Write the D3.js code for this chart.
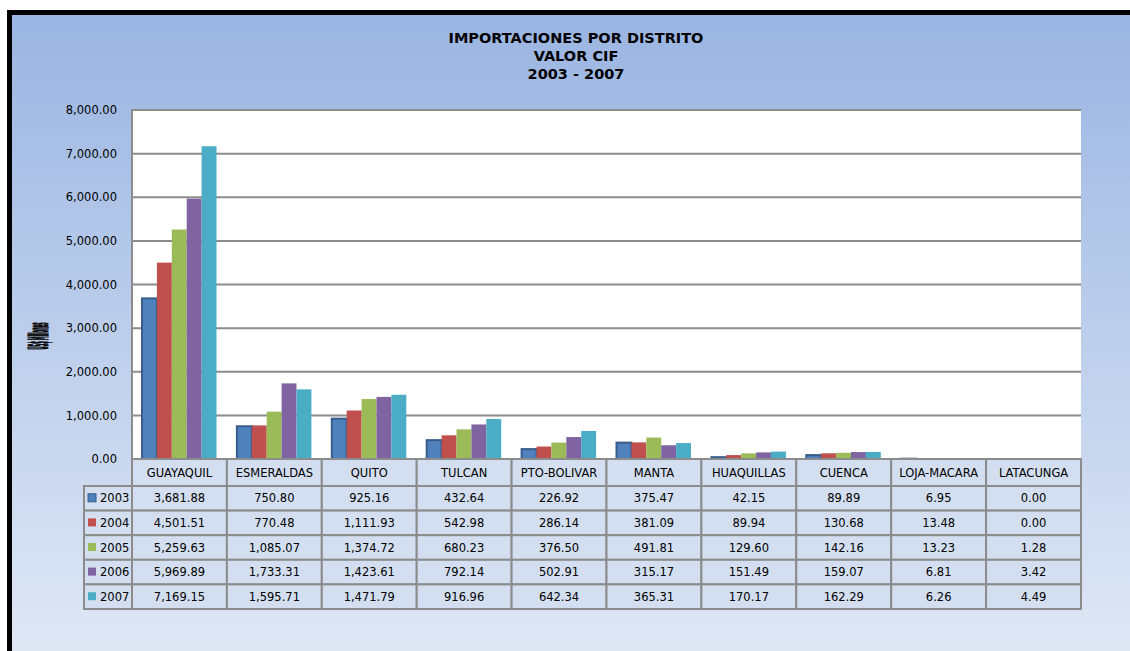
<!DOCTYPE html>
<html>
<head>
<meta charset="utf-8">
<script src="https://cdn.jsdelivr.net/npm/d3@7"></script>
<style>
  body { margin: 0; background: #fff; }
  svg { display: block; font-family: "DejaVu Sans", Verdana, sans-serif; }
</style>
</head>
<body>
<div class="graph"></div>
<script>
// Importaciones por distrito, valor CIF 2003 - 2007

var districts = ["GUAYAQUIL", "ESMERALDAS", "QUITO", "TULCAN", "PTO-BOLIVAR",
                 "MANTA", "HUAQUILLAS", "CUENCA", "LOJA-MACARA", "LATACUNGA"];
var years = ["2003", "2004", "2005", "2006", "2007"];

var v2003 = [3681.88, 750.80, 925.16, 432.64, 226.92, 375.47, 42.15, 89.89, 6.95, 0.00];
var v2004 = [4501.51, 770.48, 1111.93, 542.98, 286.14, 381.09, 89.94, 130.68, 13.48, 0.00];
var v2005 = [5259.63, 1085.07, 1374.72, 680.23, 376.50, 491.81, 129.60, 142.16, 13.23, 1.28];
var v2006 = [5969.89, 1733.31, 1423.61, 792.14, 502.91, 315.17, 151.49, 159.07, 6.81, 3.42];
var v2007 = [7169.15, 1595.71, 1471.79, 916.96, 642.34, 365.31, 170.17, 162.29, 6.26, 4.49];

var yTicks = [0, 1000, 2000, 3000, 4000, 5000, 6000, 7000, 8000];
var colors = ["#4f81bd", "#c0504d", "#9bbb59", "#8064a2", "#4bacc6"];

var series = [v2003, v2004, v2005, v2006, v2007];

var W = 1130, H = 651;
var plotL = 132, plotR = 1081, plotT = 110, plotB = 459;
var rowH = 24.6, headH = 27;

var svg = d3.select(".graph").append("svg")
    .attr("width", W)
    .attr("height", H);

var defs = svg.append("defs");
var grad = defs.append("linearGradient")
    .attr("id", "bg")
    .attr("x1", 0).attr("y1", 0).attr("x2", 0).attr("y2", 1);
grad.append("stop").attr("offset", "0%").attr("stop-color", "#9ab5e2");
grad.append("stop").attr("offset", "100%").attr("stop-color", "#e0e8f5");

// frame
svg.append("rect")
    .attr("x", 9.5).attr("y", 12.5)
    .attr("width", W).attr("height", H)
    .attr("fill", "url(#bg)")
    .attr("stroke", "#000")
    .attr("stroke-width", 5);

// title
var title = svg.append("text")
    .attr("text-anchor", "middle")
    .attr("font-weight", "bold")
    .attr("font-size", 14.5)
    .attr("fill", "#000");
["IMPORTACIONES POR DISTRITO", "VALOR CIF", "2003 - 2007"].forEach(function(t, i) {
    title.append("tspan").attr("x", 576).attr("y", 43 + i * 18).text(t);
});

var x = d3.scaleBand().domain(districts).range([plotL, plotR]);
var x1 = d3.scaleBand().domain(years).range([10, 84.5]);
var y = d3.scaleLinear().domain([0, 8000]).range([plotB, plotT]);

// plot area
svg.append("rect")
    .attr("x", plotL).attr("y", plotT)
    .attr("width", plotR - plotL).attr("height", plotB - plotT)
    .attr("fill", "#fff");

svg.append("g").selectAll("line")
    .data(yTicks)
    .join("line")
    .attr("x1", plotL).attr("x2", plotR)
    .attr("y1", function(d) { return y(d); })
    .attr("y2", function(d) { return y(d); })
    .attr("stroke", "#8c8c8c")
    .attr("stroke-width", 2);

svg.append("line")
    .attr("x1", plotL).attr("x2", plotL)
    .attr("y1", plotT - 1).attr("y2", plotB)
    .attr("stroke", "#8c8c8c")
    .attr("stroke-width", 2);

// y axis labels
var yAxis = svg.append("g")
    .attr("transform", "translate(" + (plotL - 4) + ",0)")
    .call(d3.axisLeft(y).tickValues(yTicks).tickFormat(d3.format(",.2f")).tickSize(0).tickPadding(11));
yAxis.select(".domain").remove();
yAxis.selectAll("text")
    .attr("font-size", 11.5)
    .attr("font-family", "DejaVu Sans, Verdana, sans-serif")
    .attr("fill", "#000");

// y axis title (garbled in the original)
svg.append("text")
    .attr("transform", "translate(48,336) rotate(-90)")
    .attr("text-anchor", "middle")
    .attr("font-weight", "bold")
    .attr("font-size", 26)
    .attr("textLength", 27)
    .attr("lengthAdjust", "spacingAndGlyphs")
    .attr("stroke", "#000")
    .attr("stroke-width", 1.5)
    .text("US$ Millones");

// bars
var groups = svg.append("g").selectAll("g")
    .data(years)
    .join("g");

groups.each(function(yr, si) {
    d3.select(this).selectAll("rect")
        .data(series[si])
        .join("rect")
        .attr("x", function(d, i) { return x(districts[i]) + x1(yr); })
        .attr("y", function(d) { return y(d); })
        .attr("width", x1.bandwidth())
        .attr("height", function(d) { return plotB - y(d); })
        .attr("fill", colors[si])
        .attr("stroke", si === 0 ? "#385d8a" : "none")
        .attr("stroke-width", si === 0 ? 2 : 0);
});

// data table
var table = svg.append("g");
var cellFill = "#d3dff1";
var lineCol = "#8c8c8c";

// header row
table.selectAll("rect.head")
    .data(districts)
    .join("rect")
    .attr("class", "head")
    .attr("x", function(d) { return x(d); })
    .attr("y", plotB)
    .attr("width", x.bandwidth())
    .attr("height", headH)
    .attr("fill", cellFill)
    .attr("stroke", lineCol)
    .attr("stroke-width", 2);

table.selectAll("text.head")
    .data(districts)
    .join("text")
    .attr("class", "head")
    .attr("x", function(d) { return x(d) + x.bandwidth() / 2; })
    .attr("y", plotB + headH / 2 + 4)
    .attr("text-anchor", "middle")
    .attr("font-size", 11.5)
    .text(function(d) { return d; });

var fmt = d3.format(",.2f");
var tableTop = plotB + headH;

years.forEach(function(yr, si) {
    var ry = tableTop + si * rowH;
    var row = table.append("g");

    row.append("rect")
        .attr("x", 84).attr("y", ry)
        .attr("width", plotL - 84).attr("height", rowH)
        .attr("fill", cellFill)
        .attr("stroke", lineCol)
        .attr("stroke-width", 2);

    row.append("rect")
        .attr("x", 88).attr("y", ry + rowH / 2 - 4.5)
        .attr("width", 8).attr("height", 8)
        .attr("fill", colors[si])
        .attr("stroke", si === 0 ? "#385d8a" : "none")
        .attr("stroke-width", 1);

    row.append("text")
        .attr("x", 100).attr("y", ry + rowH / 2 + 4)
        .attr("font-size", 11.5)
        .text(yr);

    row.selectAll("rect.cell")
        .data(series[si])
        .join("rect")
        .attr("class", "cell")
        .attr("x", function(d, i) { return x(districts[i]); })
        .attr("y", ry)
        .attr("width", x.bandwidth())
        .attr("height", rowH)
        .attr("fill", cellFill)
        .attr("stroke", lineCol)
        .attr("stroke-width", 2);

    row.selectAll("text.cell")
        .data(series[si])
        .join("text")
        .attr("class", "cell")
        .attr("x", function(d, i) { return x(districts[i]) + x.bandwidth() / 2; })
        .attr("y", ry + rowH / 2 + 4)
        .attr("text-anchor", "middle")
        .attr("font-size", 11.5)
        .text(function(d) { return fmt(d); });
});
</script>
</body>
</html>
